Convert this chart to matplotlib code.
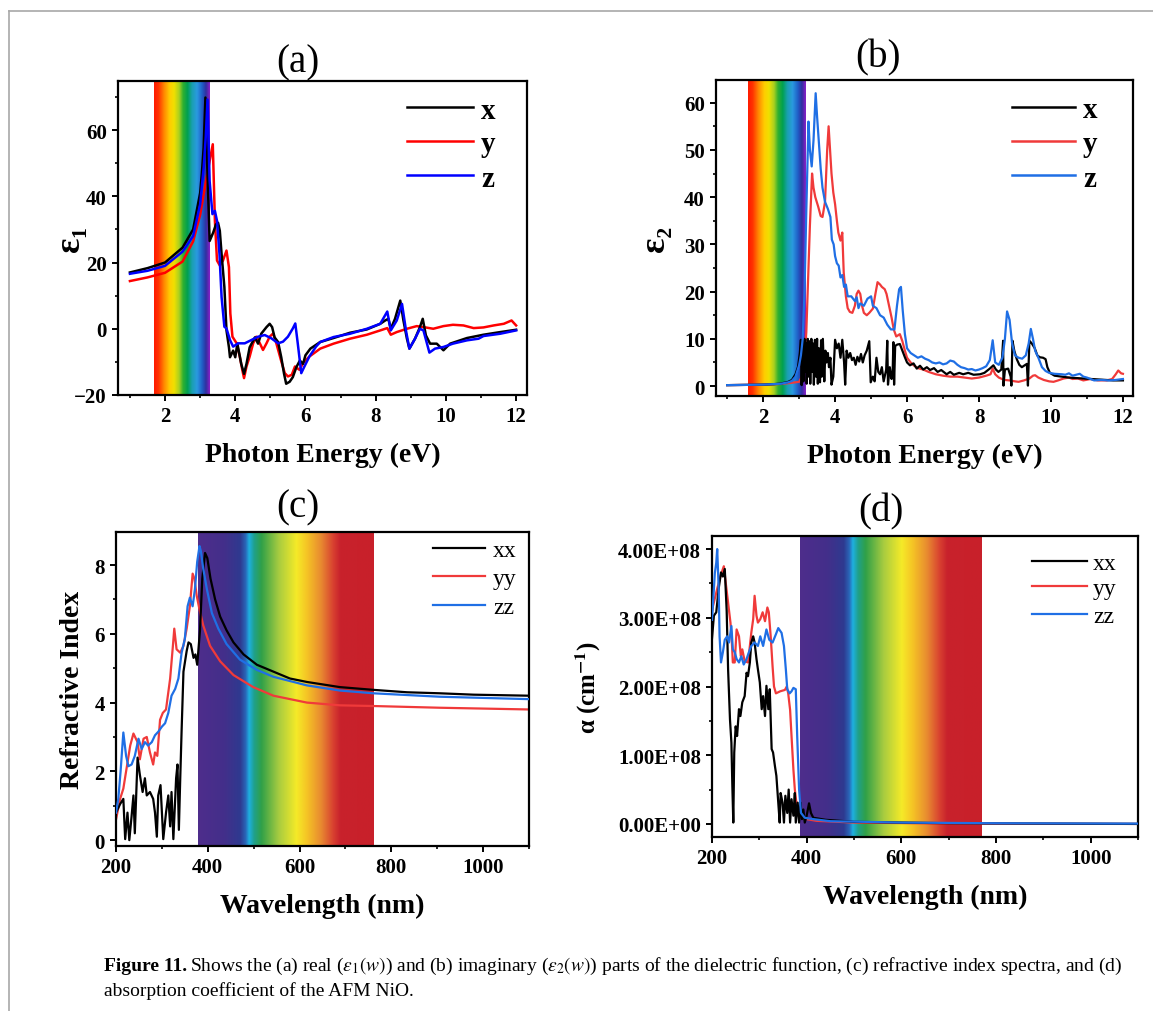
import numpy as np
import matplotlib
matplotlib.use("Agg")
import matplotlib.pyplot as plt
from matplotlib.colors import LinearSegmentedColormap
from matplotlib.lines import Line2D
from matplotlib.ticker import MultipleLocator, FuncFormatter

plt.rcParams['font.family'] = ['Liberation Serif', 'DejaVu Serif']
plt.rcParams['mathtext.fontset'] = 'stix'
plt.rcParams['axes.unicode_minus'] = True

# ---------------- (a) eps1, photon energy (eV) ----------------
a_x_e = [1.0, 1.5, 2.0, 2.5, 2.8, 3.0, 3.05, 3.1, 3.15, 3.2, 3.27, 3.37, 3.45, 3.51, 3.56,
         3.61, 3.69, 3.75, 3.82, 3.85, 3.94, 4.0, 4.06, 4.17, 4.25, 4.32, 4.41, 4.56, 4.65,
         4.74, 4.89, 4.98, 5.05, 5.12, 5.22, 5.31, 5.39, 5.45, 5.55, 5.64, 5.74, 5.84, 5.93,
         6.0, 6.14, 6.42, 6.8, 7.27, 7.75, 8.13, 8.27, 8.36, 8.43, 8.55, 8.7, 8.79, 8.89,
         8.96, 9.12, 9.26, 9.34, 9.43, 9.55, 9.74, 9.93, 10.12, 10.6, 11.07, 11.55, 12.0]
a_x_v = [17.0, 18.3, 20.0, 24.5, 30.0, 41.0, 47.0, 54.7, 69.8, 50.0, 26.5, 29.0, 31.5, 32.0, 29.6,
         22.6, 12.6, -0.5, -5.6, -8.6, -6.6, -8.6, -4.5, -10.6, -13.6, -10.6, -5.6, -2.6, -4.5,
         -1.5, 0.5, 1.5, 0.5, -2.6, -4.0, -8.6, -13.6, -16.6, -16.0, -14.6, -11.6, -9.6, -10.6,
         -8.0, -6.0, -4.0, -2.8, -1.2, -0.2, 1.5, 2.5, 3.0, 0.0, 3.0, 8.5, 2.5, -3.0,
         -6.0, -3.0, 0.5, 3.0, -2.0, -4.5, -4.5, -6.5, -4.5, -2.8, -1.8, -1.0, -0.3]

a_y_e = [1.0, 1.5, 2.0, 2.5, 2.8, 3.0, 3.1, 3.2, 3.26, 3.36, 3.42, 3.48, 3.56, 3.65, 3.75,
         3.82, 3.86, 3.92, 4.04, 4.13, 4.2, 4.25, 4.32, 4.41, 4.51, 4.6, 4.7, 4.79, 4.89,
         4.98, 5.08, 5.17, 5.3, 5.41, 5.5, 5.61, 5.7, 5.83, 5.93, 6.11, 6.42, 6.8, 7.27,
         7.75, 8.13, 8.33, 8.43, 8.6, 8.89, 9.17, 9.36, 9.64, 9.93, 10.2, 10.5, 10.79,
         11.07, 11.36, 11.65, 11.87, 12.0]
a_y_v = [14.4, 15.5, 16.9, 20.3, 26.4, 34.4, 40.6, 46.6, 50.0, 55.7, 32.6, 20.6, 19.1, 20.6, 23.6,
         18.6, 4.6, -2.4, -4.4, -8.4, -12.4, -14.9, -11.4, -8.4, -4.4, -2.4, -4.4, -6.4, -4.4,
         -2.4, -1.4, -4.4, -9.4, -13.4, -14.4, -13.9, -11.4, -12.4, -10.4, -8.4, -6.0, -4.5, -3.0,
         -1.8, -0.5, 0.2, -1.8, -1.0, 0.0, 0.8, 0.5, 0.0, 0.8, 1.2, 1.0, 0.2,
         0.4, 1.0, 1.5, 2.5, 1.0]

a_z_e = [1.0, 1.5, 2.0, 2.5, 2.8, 3.0, 3.1, 3.16, 3.21, 3.27, 3.35, 3.42, 3.48, 3.55, 3.61,
         3.69, 3.75, 3.85, 3.94, 4.08, 4.27, 4.46, 4.65, 4.84, 5.03, 5.22, 5.36, 5.5, 5.64,
         5.71, 5.78, 5.88, 5.97, 6.11, 6.3, 6.42, 6.8, 7.27, 7.75, 8.13, 8.33, 8.43, 8.6,
         8.75, 8.87, 8.96, 9.12, 9.26, 9.36, 9.53, 9.69, 9.93, 10.2, 10.6, 10.93, 11.07,
         11.55, 12.0]
a_z_v = [16.6, 17.5, 19.0, 23.3, 28.0, 37.6, 48.6, 58.0, 69.2, 44.6, 34.6, 35.6, 32.6, 22.6, 9.6,
         0.6, 0.1, -3.4, -5.4, -4.4, -4.4, -3.4, -2.4, -1.9, -2.9, -4.4, -3.9, -2.4, 0.1,
         1.6, -4.4, -13.4, -11.4, -8.4, -5.4, -4.0, -2.5, -1.5, 0.0, 1.5, 5.2, -0.5, 2.5,
         7.5, -1.0, -6.0, -3.0, 0.0, -0.5, -7.2, -6.0, -5.5, -4.5, -3.5, -3.0, -2.2,
         -1.5, -0.5]

# ---------------- (b) eps2, photon energy (eV) ----------------
b_x_e = [1.0, 1.5, 2.0, 2.3, 2.5, 2.7, 2.8, 2.9, 2.97, 3.02, 3.05, 3.07, 3.1, 3.12, 3.15,
         3.17, 3.19, 3.21, 3.24, 3.26, 3.29, 3.31, 3.34, 3.36, 3.39, 3.41, 3.44, 3.47, 3.5,
         3.52, 3.55, 3.58, 3.61, 3.63, 3.66, 3.7, 3.73, 3.76, 3.8, 3.83, 3.87, 3.9, 3.95,
         4.0, 4.05, 4.1, 4.15, 4.2, 4.25, 4.28, 4.32, 4.37, 4.42, 4.47, 4.52, 4.57, 4.62,
         4.67, 4.72, 4.77, 4.82, 4.88, 4.95, 4.99, 5.05, 5.1, 5.15, 5.2, 5.25, 5.3, 5.35,
         5.42, 5.45, 5.47, 5.52, 5.57, 5.6, 5.62, 5.64, 5.67, 5.73, 5.8, 5.87, 5.94, 6.0,
         6.08, 6.18, 6.27, 6.36, 6.45, 6.55, 6.64, 6.75, 6.85, 6.95, 7.1, 7.2, 7.3, 7.45,
         7.56, 7.7, 7.85, 8.03, 8.15, 8.3, 8.4, 8.47, 8.54, 8.62, 8.67, 8.68, 8.72, 8.81,
         8.88, 8.9, 8.93, 8.98, 9.05, 9.12, 9.19, 9.27, 9.33, 9.36, 9.4, 9.47, 9.55, 9.62,
         9.69, 9.78, 9.85, 9.9, 9.97, 10.1, 10.3, 10.5, 10.7, 10.9, 11.1, 11.3, 11.5,
         11.73, 12.0]
b_x_v = [0.2, 0.25, 0.3, 0.4, 0.55, 0.9, 1.3, 2.5, 4.1, 7.0, 9.8, 0.2, 9.5, 1.0, 10.0,
         3.0, 9.0, 0.5, 10.0, 2.0, 9.5, 0.5, 10.0, 3.0, 9.0, 0.3, 9.8, 2.0, 10.0,
         0.5, 8.0, 0.8, 9.7, 2.0, 10.0, 1.0, 7.5, 5.0, 7.0, 4.0, 6.0, 0.3, 2.0,
         9.8, 8.0, 9.0, 6.0, 9.8, 5.0, 0.3, 7.5, 6.0, 7.0, 5.5, 6.0, 4.5, 6.2,
         5.2, 6.8, 5.0, 6.5, 7.5, 9.5, 0.8, 2.0, 1.0, 6.0, 3.0, 2.5, 4.0, 1.0,
         3.5, 9.6, 0.3, 4.0, 1.5, 3.0, 9.3, 0.3, 8.5, 8.8, 8.9, 7.5, 6.1, 5.0,
         4.4, 4.8, 3.7, 4.3, 3.5, 4.0, 3.4, 3.8, 3.0, 3.4, 2.5, 3.0, 2.4, 2.8,
         2.5, 2.8, 2.4, 2.5, 2.8, 3.7, 4.4, 3.5, 3.0, 3.5, 9.6, 0.1, 3.5, 3.7,
         2.0, 0.1, 9.6, 7.5, 5.7, 4.5, 4.0, 4.4, 4.7, 0.1, 9.6, 9.0, 8.0, 6.5,
         6.1, 6.0, 5.7, 4.0, 2.8, 2.2, 2.0, 1.8, 1.7, 1.6, 1.5, 1.4, 1.3,
         1.2, 1.2]

b_y_e = [1.0, 1.5, 2.0, 2.5, 2.8, 3.0, 3.1, 3.15, 3.2, 3.25, 3.3, 3.36, 3.4, 3.45, 3.53,
         3.6, 3.65, 3.72, 3.78, 3.82, 3.86, 3.9, 3.95, 4.0, 4.05, 4.09, 4.15, 4.2, 4.24,
         4.3, 4.35, 4.41, 4.48, 4.55, 4.6, 4.65, 4.7, 4.75, 4.8, 4.88, 4.95, 5.05, 5.12,
         5.18, 5.25, 5.3, 5.38, 5.43, 5.5, 5.57, 5.63, 5.7, 5.8, 5.87, 5.94, 6.0, 6.1,
         6.2, 6.3, 6.45, 6.6, 6.8, 7.0, 7.2, 7.4, 7.6, 7.8, 8.0, 8.2, 8.32, 8.38, 8.45,
         8.55, 8.7, 8.85, 9.0, 9.1, 9.25, 9.4, 9.5, 9.56, 9.65, 9.8, 9.95, 10.07, 10.2,
         10.35, 10.5, 10.6, 10.75, 10.9, 11.1, 11.3, 11.55, 11.7, 11.8, 11.87, 11.95, 12.0]
b_y_v = [0.2, 0.25, 0.3, 0.45, 0.7, 0.9, 2.3, 5.8, 11.4, 22.7, 34.0, 45.0, 42.0, 40.0, 38.0,
         36.0, 35.8, 39.0, 50.0, 55.0, 50.0, 45.0, 41.0, 38.5, 35.0, 32.5, 30.8, 32.5, 24.0,
         19.0, 16.5, 15.7, 15.5, 17.0, 19.5, 20.2, 19.5, 17.0, 15.5, 15.0, 15.5, 16.4, 19.5,
         22.0, 21.5, 21.0, 20.5, 19.5, 17.0, 14.5, 12.0, 10.5, 11.0, 9.5, 7.5, 6.0, 5.0,
         4.3, 3.8, 3.5, 3.0, 2.5, 2.2, 2.0, 2.0, 1.8, 1.6, 1.8, 2.2, 2.5, 3.7, 2.5,
         1.8, 1.3, 1.2, 1.0, 0.9, 1.2, 1.6, 2.2, 2.3, 1.8, 1.3, 1.0, 0.9, 1.2,
         1.6, 1.8, 1.5, 1.6, 1.2, 1.5, 1.2, 1.2, 1.5, 2.5, 3.3, 2.7, 2.6]

b_z_e = [1.0, 1.5, 2.0, 2.5, 2.7, 2.8, 2.9, 3.0, 3.05, 3.1, 3.15, 3.2, 3.26, 3.3, 3.35, 3.4,
         3.46, 3.5, 3.55, 3.6, 3.65, 3.72, 3.8, 3.87, 3.91, 3.96, 4.0, 4.05, 4.1, 4.15, 4.2,
         4.25, 4.3, 4.35, 4.45, 4.55, 4.6, 4.65, 4.7, 4.8, 4.9, 5.0, 5.05, 5.15, 5.25, 5.35,
         5.45, 5.55, 5.65, 5.72, 5.78, 5.83, 5.88, 5.94, 6.0, 6.1, 6.2, 6.3, 6.4, 6.5, 6.6,
         6.7, 6.8, 6.9, 7.0, 7.1, 7.2, 7.3, 7.4, 7.5, 7.6, 7.7, 7.8, 7.9, 8.0, 8.1, 8.2,
         8.3, 8.38, 8.45, 8.55, 8.65, 8.72, 8.78, 8.85, 8.92, 9.0, 9.1, 9.2, 9.3, 9.38,
         9.44, 9.5, 9.56, 9.65, 9.75, 9.85, 9.95, 10.1, 10.3, 10.4, 10.5, 10.6, 10.7, 10.8,
         10.9, 11.0, 11.1, 11.2, 11.4, 11.6, 11.8, 12.0]
b_z_v = [0.2, 0.25, 0.3, 0.5, 0.8, 1.1, 2.0, 4.4, 6.5, 10.0, 20.0, 37.0, 56.0, 50.0, 46.5, 52.0,
         62.0, 57.0, 51.5, 46.0, 42.0, 39.0, 37.5, 35.8, 31.0, 30.0, 27.5, 26.0, 25.5, 23.0, 23.5,
         21.0, 21.5, 19.0, 19.0, 18.0, 18.8, 16.5, 17.5, 17.0, 18.5, 19.0, 17.0, 16.5, 15.0, 14.5,
         13.0, 12.0, 12.0, 17.0, 20.5, 21.0, 16.0, 11.0, 8.0, 7.0, 6.5, 6.0, 6.3, 5.8, 5.5,
         5.0, 4.8, 5.0, 4.6, 4.8, 5.4, 5.2, 4.5, 4.0, 3.8, 3.5, 3.6, 3.3, 3.5, 3.8, 4.2,
         5.5, 9.7, 5.0, 4.5, 6.0, 10.0, 15.8, 14.0, 9.0, 6.5, 6.0, 5.8, 6.5, 9.0,
         12.1, 10.0, 7.5, 6.0, 4.0, 3.2, 2.8, 2.6, 2.5, 2.4, 2.7, 2.2, 2.4, 2.6,
         2.0, 1.8, 1.5, 1.2, 1.3, 1.2, 1.3, 1.5]

# ---------------- (c) refractive index, wavelength (nm) ----------------
c_xx_w = [200, 209, 216, 220, 225, 229, 234, 238, 241, 247, 252, 258, 263, 267, 274, 281, 285,
          289, 292, 297, 303, 309, 314, 318, 321, 325, 331, 334, 337, 340, 343, 347, 354,
          358, 363, 369, 373, 377, 383, 388, 394, 399, 406, 416, 427, 441, 456, 478, 507,
          543, 579, 616, 688, 761, 834, 906, 979, 1100]
c_xx_n = [0.8, 1.05, 1.2, 0.03, 0.8, 0.0, 0.7, 1.3, 0.2, 2.4, 1.9, 1.4, 1.8, 1.3, 1.4, 1.2, 0.8,
          0.1, 1.3, 1.6, 0.03, 0.8, 1.3, 0.4, 1.4, 0.03, 1.8, 2.2, 0.3, 1.8, 3.2, 4.9, 5.5,
          5.75, 5.7, 5.3, 5.4, 5.1, 6.1, 7.6, 8.35, 8.2, 7.6, 7.0, 6.5, 6.1, 5.75, 5.4, 5.1,
          4.9, 4.7, 4.6, 4.45, 4.37, 4.3, 4.27, 4.23, 4.2]

c_yy_w = [200, 209, 216, 222, 231, 238, 247, 252, 260, 267, 274, 281, 285, 290, 296, 302, 309,
          318, 324, 327, 332, 340, 347, 354, 361, 367, 371, 376, 382, 390, 405, 427, 456,
          499, 543, 616, 688, 761, 906, 1100]
c_yy_n = [0.6, 1.2, 1.5, 2.0, 2.75, 3.1, 2.85, 2.35, 2.95, 3.0, 2.55, 2.2, 2.55, 2.45, 3.5, 3.7, 3.8,
          4.7, 5.65, 6.15, 5.55, 5.45, 5.65, 6.15, 6.8, 7.75, 7.6, 7.1, 6.7, 6.25, 5.65, 5.2, 4.8,
          4.45, 4.2, 4.0, 3.92, 3.9, 3.85, 3.8]

c_zz_w = [200, 205, 210, 216, 222, 227, 234, 241, 249, 256, 263, 270, 278, 285, 292, 300, 307,
          314, 321, 329, 336, 343, 350, 356, 361, 367, 372, 377, 382, 385, 390, 398, 409, 423,
          441, 470, 507, 543, 616, 688, 761, 906, 1100]
c_zz_n = [0.8, 1.2, 2.0, 3.13, 2.45, 2.15, 2.2, 2.45, 2.95, 2.65, 2.85, 2.75, 2.85, 3.05, 3.15, 3.3,
          3.4, 3.7, 4.2, 4.4, 4.7, 5.45, 5.85, 6.8, 7.05, 6.8, 7.3, 8.1, 8.55, 8.4, 7.9, 7.3, 6.6,
          6.15, 5.7, 5.25, 4.95, 4.75, 4.5, 4.35, 4.27, 4.17, 4.1]

# ---------------- (d) absorption coefficient (1e8 cm^-1), wavelength (nm) ----------------
d_xx_w = [200, 204, 209, 214, 219, 223, 227, 231, 234, 238, 241, 243, 245, 247, 250, 253, 257,
          260, 264, 269, 273, 276, 280, 283, 287, 290, 294, 297, 301, 305, 308, 312, 315, 319,
          322, 326, 329, 333, 336, 340, 343, 345, 349, 352, 355, 359, 362, 365, 368, 372, 375,
          377, 381, 384, 387, 390, 393, 396, 400, 405, 409, 414, 440, 500, 700, 1100]
d_xx_a = [2.7, 3.03, 3.08, 3.42, 3.66, 3.6, 3.71, 3.1, 2.25, 1.52, 1.18, 0.55, 0.02, 1.04, 1.42,
          1.28, 1.67, 1.57, 1.77, 1.86, 2.2, 2.15, 2.35, 2.64, 2.73, 2.64, 2.4, 2.25, 2.06, 1.67,
          1.86, 1.57, 2.01, 1.67, 1.96, 1.09, 1.04, 0.84, 0.7, 0.31, 0.02, 0.45, 0.31, 0.02,
          0.41, 0.16, 0.5, 0.02, 0.36, 0.12, 0.45, 0.02, 0.31, 0.02, 0.31, 0.07, 0.21, 0.02,
          0.12, 0.3, 0.16, 0.09, 0.06, 0.03, 0.01, 0.0]

d_yy_w = [200, 202, 212, 219, 225, 229, 234, 239, 242, 244, 248, 252, 257, 261, 264, 269, 276,
          280, 283, 287, 290, 294, 297, 302, 307, 312, 317, 320, 324, 328, 331, 335, 344, 354,
          358, 361, 365, 368, 372, 375, 380, 386, 400, 421, 500, 700, 1100]
d_yy_a = [3.1, 3.17, 3.45, 3.63, 3.75, 3.51, 3.22, 2.93, 2.64, 2.35, 2.35, 2.83, 2.73, 2.44, 2.54,
          2.37, 2.35, 2.59, 2.78, 2.98, 3.32, 3.03, 2.93, 2.98, 3.08, 2.95, 3.15, 3.08, 2.73, 2.29,
          2.0, 1.9, 1.93, 1.95, 2.0, 1.9, 1.66, 1.28, 0.79, 0.5, 0.21, 0.12, 0.07, 0.045, 0.02,
          0.005, 0.0]

d_zz_w = [200, 206, 209, 211, 214, 216, 219, 223, 227, 232, 236, 241, 244, 248, 252, 257, 262,
          267, 273, 278, 283, 290, 297, 302, 308, 315, 321, 328, 335, 340, 347, 352, 356, 359,
          364, 368, 372, 377, 380, 384, 388, 396, 414, 450, 600, 800, 1100]
d_zz_a = [2.97, 3.65, 3.8, 4.0, 3.45, 2.73, 2.35, 2.5, 2.68, 2.73, 2.64, 2.88, 2.54, 2.5, 2.4, 2.35,
          2.44, 2.32, 2.4, 2.5, 2.59, 2.64, 2.59, 2.73, 2.59, 2.83, 2.68, 2.64, 2.76, 2.85, 2.78,
          2.59, 2.25, 1.96, 1.9, 1.93, 1.98, 1.96, 1.28, 0.5, 0.16, 0.09, 0.07, 0.04, 0.02, 0.01,
          0.005]

# colour ramps for the visible-light bands
energy_ramp = LinearSegmentedColormap.from_list('energy', [
    (0.00, '#ff1a00'), (0.08, '#ff3300'), (0.18, '#ff8800'), (0.28, '#ffcc00'),
    (0.36, '#f0e000'), (0.45, '#a8d020'), (0.52, '#30b030'), (0.60, '#00a050'),
    (0.68, '#1aa0b0'), (0.77, '#2a9ae0'), (0.86, '#2060c8'), (0.93, '#3030a0'),
    (1.00, '#8a20c8')])
wave_ramp = LinearSegmentedColormap.from_list('wave', [
    (0.00, '#4e2d8c'), (0.15, '#432f8a'), (0.24, '#2e3a90'), (0.27, '#2a66b8'),
    (0.29, '#1eb0e0'), (0.32, '#20a088'), (0.36, '#30a048'), (0.46, '#a8cc40'),
    (0.56, '#f5ea28'), (0.62, '#f5c425'), (0.70, '#e88a30'), (0.77, '#d84030'),
    (0.81, '#c8222c'), (1.00, '#c8202a')])

W, H = 1153, 1012
fig = plt.figure(figsize=(W / 100, H / 100), dpi=100)


def px_axes(l, t, r, b):
    return fig.add_axes([l / W, 1 - b / H, (r - l) / W, (b - t) / H])


def band(ax, x0, x1, ylim, cmap):
    grad = np.linspace(0, 1, 256).reshape(1, -1)
    ax.imshow(grad, extent=[x0, x1, ylim[0], ylim[1]], aspect='auto', cmap=cmap,
              interpolation='bilinear', zorder=0)


def style(ax, xlim, ylim, xmaj, xmin, ymaj, ymin):
    ax.set_xlim(*xlim)
    ax.set_ylim(*ylim)
    ax.xaxis.set_major_locator(MultipleLocator(xmaj))
    ax.xaxis.set_minor_locator(MultipleLocator(xmin))
    ax.yaxis.set_major_locator(MultipleLocator(ymaj))
    ax.yaxis.set_minor_locator(MultipleLocator(ymin))
    for s in ax.spines.values():
        s.set_linewidth(1.6)
    ax.tick_params(which='major', direction='out', length=4, width=1.4, labelsize=15, pad=4)
    ax.tick_params(which='minor', direction='out', length=2.5, width=1.2)


def bold_ticks(ax):
    for lab in ax.get_xticklabels() + ax.get_yticklabels():
        lab.set_fontweight('bold')


def legend(ax, items, x0, x1, xt, ys, size, weight, lw):
    for (lab, col), y in zip(items, ys):
        ax.add_line(Line2D([x0, x1], [y, y], color=col, lw=lw, transform=ax.transAxes))
        ax.text(xt, y, lab, transform=ax.transAxes, fontsize=size, fontweight=weight,
                va='center_baseline', ha='left')


RED2, BLUE2 = '#f03a3a', '#1f6fe5'
XLAB = dict(fontsize=20, fontweight='bold', labelpad=11)

# (a)
ax = px_axes(118, 82, 527, 396)
ylim = (-20, 74.8)
band(ax, 1.69, 3.27, ylim, energy_ramp)
ax.plot(a_x_e, a_x_v, color='black', lw=1.8, zorder=3)
ax.plot(a_y_e, a_y_v, color='#ff0000', lw=1.8, zorder=2)
ax.plot(a_z_e, a_z_v, color='#0000ff', lw=1.8, zorder=4)
style(ax, (0.66, 12.31), ylim, 2, 1, 20, 10)
ax.set_xlabel('Photon Energy (eV)', **XLAB)
ax.set_ylabel('ε₁', fontsize=26, fontweight='bold')
ax.yaxis.set_label_coords(-0.075, 0.5)
ax.text(0.44, 1.06, '(a)', transform=ax.transAxes, fontsize=28,
        ha='center', va='center')
legend(ax, [('x', 'black'), ('y', '#ff0000'), ('z', '#0000ff')],
       0.707, 0.868, 0.888, [0.917, 0.809, 0.70], 21, 'bold', 1.8)
bold_ticks(ax)

# (b)
ax = px_axes(716, 81, 1133, 397)
ylim = (-2.1, 64.8)
band(ax, 1.58, 3.19, ylim, energy_ramp)
ax.plot(b_x_e, b_x_v, color='black', lw=1.6, zorder=3)
ax.plot(b_y_e, b_y_v, color=RED2, lw=1.6, zorder=2)
ax.plot(b_z_e, b_z_v, color=BLUE2, lw=1.6, zorder=4)
style(ax, (0.69, 12.28), ylim, 2, 1, 10, 5)
ax.set_xlabel('Photon Energy (eV)', **XLAB)
ax.set_ylabel('ε₂', fontsize=26, fontweight='bold')
ax.yaxis.set_label_coords(-0.105, 0.5)
ax.text(0.389, 1.073, '(b)', transform=ax.transAxes, fontsize=28,
        ha='center', va='center')
legend(ax, [('x', 'black'), ('y', RED2), ('z', BLUE2)],
       0.71, 0.861, 0.88, [0.915, 0.807, 0.699], 21, 'bold', 1.8)
bold_ticks(ax)

# (c)
ax = px_axes(116, 533, 529, 847)
ylim = (-0.17, 8.96)
band(ax, 379, 762, ylim, wave_ramp)
ax.plot(c_xx_w, c_xx_n, color='black', lw=1.6, zorder=3)
ax.plot(c_yy_w, c_yy_n, color=RED2, lw=1.6, zorder=2)
ax.plot(c_zz_w, c_zz_n, color=BLUE2, lw=1.6, zorder=4)
style(ax, (200, 1100), ylim, 200, 100, 2, 1)
ax.set_xlabel('Wavelength (nm)', **XLAB)
ax.set_ylabel('Refractive Index', fontsize=20, fontweight='bold')
ax.yaxis.set_label_coords(-0.075, 0.5)
ax.text(0.44, 1.08, '(c)', transform=ax.transAxes, fontsize=28,
        ha='center', va='center')
legend(ax, [('xx', 'black'), ('yy', RED2), ('zz', BLUE2)],
       0.768, 0.893, 0.913, [0.949, 0.860, 0.768], 17, 'normal', 1.6)
bold_ticks(ax)

# (d)
ax = px_axes(712, 537, 1138, 838)
ylim = (-0.19e8, 4.19e8)
band(ax, 385, 768, ylim, wave_ramp)
ax.plot(d_xx_w, np.array(d_xx_a) * 1e8, color='black', lw=1.6, zorder=3)
ax.plot(d_yy_w, np.array(d_yy_a) * 1e8, color=RED2, lw=1.6, zorder=2)
ax.plot(d_zz_w, np.array(d_zz_a) * 1e8, color=BLUE2, lw=1.6, zorder=4)
style(ax, (200, 1100), ylim, 200, 100, 1e8, 0.5e8)
ax.yaxis.set_major_formatter(FuncFormatter(lambda v, p: f'{v:.2E}'))
ax.set_xlabel('Wavelength (nm)', **XLAB)
ax.set_ylabel(r'α (cm$^{\mathbf{-1}}$)', fontsize=18, fontweight='bold')
ax.yaxis.set_label_coords(-0.255, 0.5)
ax.text(0.397, 1.083, '(d)', transform=ax.transAxes, fontsize=28,
        ha='center', va='center')
legend(ax, [('xx', 'black'), ('yy', RED2), ('zz', BLUE2)],
       0.751, 0.880, 0.894, [0.917, 0.834, 0.741], 17, 'normal', 1.6)
bold_ticks(ax)

# page frame lines
fig.add_artist(Line2D([8.5 / W, 8.5 / W], [0, 1 - 12 / H], color='#a8a8a8', lw=1.2))
fig.add_artist(Line2D([8.5 / W, 1], [1 - 12 / H, 1 - 12 / H], color='#a8a8a8', lw=1.2))

# caption
cap_size = 14
t1 = fig.text(104 / W, 1 - 971 / H, 'Figure 11.', fontsize=cap_size, fontweight='bold',
              va='baseline')
fig.canvas.draw()
x_after = t1.get_window_extent(fig.canvas.get_renderer()).x1 / W
fig.text(x_after + 3 / W, 1 - 971 / H,
         r'Shows the (a) real ($\varepsilon_1(w)$) and (b) imaginary ($\varepsilon_2(w)$) parts '
         'of the dielectric function, (c) refractive index spectra, and (d)',
         fontsize=cap_size, va='baseline')
fig.text(104 / W, 1 - 996 / H, 'absorption coefficient of the AFM NiO.',
         fontsize=cap_size, va='baseline')

fig.savefig('out.png', dpi=100)
